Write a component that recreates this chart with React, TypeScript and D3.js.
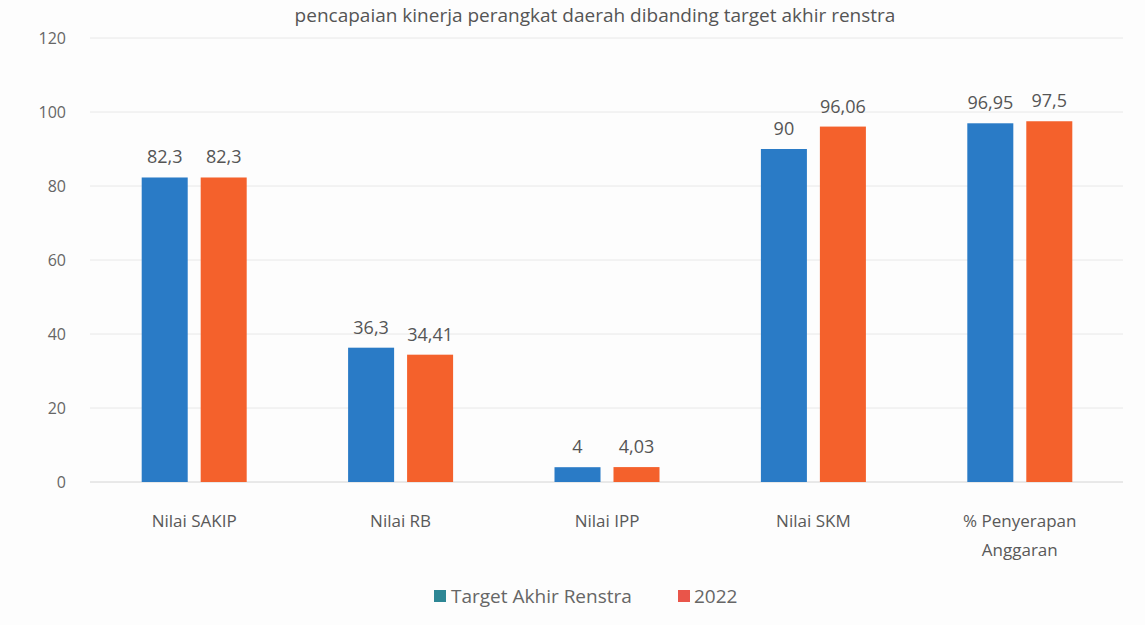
import React from "react";
import * as d3 from "d3";

const categories = ["Nilai SAKIP", "Nilai RB", "Nilai IPP", "Nilai SKM", "% Penyerapan Anggaran"];
const categoryLines = [["Nilai SAKIP"], ["Nilai RB"], ["Nilai IPP"], ["Nilai SKM"], ["% Penyerapan", "Anggaran"]];
const seriesNames = ["Target Akhir Renstra", "2022"];
const targetValues = [82.3, 36.3, 4, 90, 96.95];
const actualValues = [82.3, 34.41, 4.03, 96.06, 97.5];
const yTicks = [0, 20, 40, 60, 80, 100, 120];
const colors = ["#2A7BC6", "#F4612C"];
const legendColors = ["#2E8795", "#E9554A"];
const titleText = "pencapaian kinerja perangkat daerah dibanding target akhir renstra";

const W = 1145;
const H = 625;
const fmt = (v: number) => String(v).replace(".", ",");

export default function App() {
  const x0 = d3.scaleBand<string>().domain(categories).range([91, 1123]).padding(0);
  const x1 = d3.scaleBand<string>().domain(seriesNames).range([-52.5, 52.5]).paddingInner(0.22).paddingOuter(0);
  const y = d3.scaleLinear().domain([0, 120]).range([482, 38]);
  const seriesValues = [targetValues, actualValues];
  const font = "'Open Sans', 'Noto Sans', sans-serif";

  return (
    <svg width={W} height={H} style={{ position: "absolute", left: 0, top: 0, background: "#fff" }} fontFamily={font}>
      <rect x={0} y={0} width={W} height={H} fill="#fdfdfd" />
      <text x={595} y={22} textAnchor="middle" fontSize={19} fill="#555">{titleText}</text>
      {yTicks.map((t) => (
        <g key={t}>
          <line x1={90} x2={1123} y1={y(t)} y2={y(t)} stroke={t === 0 ? "#d4d4d4" : "#e8e8e8"} strokeWidth={1} />
          <text x={66} y={y(t)} dy="0.35em" textAnchor="end" fontSize={16} fill="#666">{t}</text>
        </g>
      ))}
      {categories.map((c, i) => {
        const cx = (x0(c) as number) + x0.bandwidth() / 2;
        return (
          <g key={c}>
            {seriesNames.map((s, j) => {
              const v = seriesValues[j][i];
              const bx = cx + (x1(s) as number);
              return (
                <g key={s}>
                  <rect x={bx} y={y(v)} width={x1.bandwidth()} height={y(0) - y(v)} fill={colors[j]} />
                  <text x={bx + x1.bandwidth() / 2} y={y(v) - 14} textAnchor="middle" fontSize={18} fill="#555">{fmt(v)}</text>
                </g>
              );
            })}
            {categoryLines[i].map((ln, k) => (
              <text key={k} x={cx} y={527 + k * 29} textAnchor="middle" fontSize={17} fill="#595959">{ln}</text>
            ))}
          </g>
        );
      })}
      <g>
        <rect x={434} y={590} width={12} height={12} fill={legendColors[0]} />
        <text x={451} y={603} fontSize={19} fill="#666">{seriesNames[0]}</text>
        <rect x={678} y={590} width={12} height={12} fill={legendColors[1]} />
        <text x={694} y={603} fontSize={19} fill="#666">{seriesNames[1]}</text>
      </g>
    </svg>
  );
}
